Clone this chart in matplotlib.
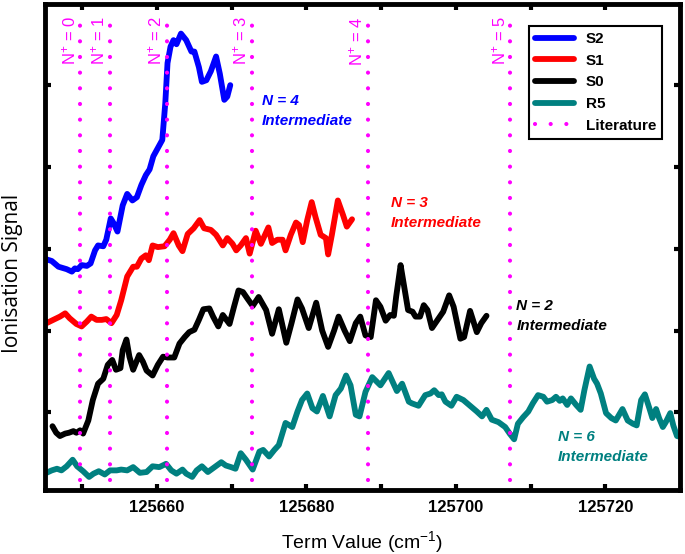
import numpy as np
from matplotlib import pyplot

pyplot.rcParams['font.family'] = ['Liberation Sans', 'DejaVu Sans']
pyplot.rcParams['mathtext.fontset'] = 'custom'
pyplot.rcParams['mathtext.rm'] = 'Liberation Sans'
pyplot.rcParams['mathtext.it'] = 'Liberation Sans:italic'
pyplot.rcParams['mathtext.bf'] = 'Liberation Sans:bold'

# S2 (blue), N = 4 intermediate
s2_x = [125645.2, 125645.9, 125646.8, 125647.9, 125648.6, 125649.0, 125649.4, 125649.9,
        125650.6, 125651.1, 125651.7, 125652.1, 125652.8, 125653.2, 125653.8, 125654.2,
        125654.7, 125655.4, 125656.0, 125656.7, 125657.3, 125657.9, 125658.5, 125659.0,
        125659.5, 125660.1, 125660.7, 125661.1, 125661.4, 125661.8, 125662.2, 125662.6,
        125663.2, 125663.9, 125664.6, 125665.0, 125665.6, 125666.0, 125666.6, 125667.2,
        125667.9, 125668.4, 125669.0, 125669.4, 125669.8]
s2_y = [2.87, 2.85, 2.78, 2.75, 2.72, 2.76, 2.75, 2.80,
        2.79, 2.82, 2.98, 3.04, 3.03, 3.11, 3.37, 3.31,
        3.21, 3.53, 3.67, 3.59, 3.63, 3.78, 3.90, 3.97,
        4.13, 4.23, 4.33, 4.78, 5.27, 5.47, 5.55, 5.50,
        5.63, 5.55, 5.41, 5.41, 5.22, 5.04, 5.06, 5.17,
        5.35, 5.14, 4.82, 4.86, 5.00]

# S1 (red), N = 3 intermediate
s1_x = [125645.2, 125646.1, 125647.0, 125647.7, 125648.3, 125649.2, 125649.9, 125650.6,
        125651.2, 125651.9, 125652.6, 125653.2, 125653.9, 125654.6, 125655.2, 125656.0,
        125656.8, 125657.3, 125657.9, 125658.5, 125658.9, 125659.4, 125660.1, 125661.0,
        125661.7, 125662.2, 125662.9, 125663.4, 125664.1, 125664.9, 125665.7, 125666.3,
        125667.2, 125667.9, 125668.8, 125669.4, 125670.1, 125670.6, 125671.2, 125671.9,
        125672.4, 125673.2, 125673.9, 125674.9, 125675.4, 125676.1, 125676.8, 125677.2,
        125677.9, 125678.6, 125679.0, 125679.5, 125680.1, 125680.7, 125681.2, 125681.9,
        125682.6, 125682.9, 125683.4, 125684.2, 125684.9, 125685.4, 125686.1]
s1_y = [2.09, 2.13, 2.17, 2.21, 2.15, 2.08, 2.05, 2.11,
        2.17, 2.13, 2.13, 2.14, 2.09, 2.19, 2.37, 2.66,
        2.78, 2.78, 2.88, 2.92, 2.86, 3.04, 3.02, 3.03,
        3.11, 3.19, 3.04, 2.97, 3.18, 3.25, 3.35, 3.25,
        3.23, 3.17, 3.04, 3.13, 3.06, 2.98, 3.04, 3.13,
        2.94, 3.22, 3.06, 3.26, 3.07, 3.11, 3.11, 2.98,
        3.17, 3.32, 3.29, 3.08, 3.35, 3.57, 3.39, 3.17,
        3.13, 2.93, 3.17, 3.59, 3.41, 3.27, 3.36]

# S0 (black), N = 2 intermediate
s0_x = [125646.0, 125646.5, 125647.0, 125647.7, 125648.2, 125648.8, 125649.2, 125649.7,
        125650.1, 125650.8, 125651.4, 125652.1, 125652.8, 125653.4, 125654.0, 125654.5,
        125655.1, 125655.4, 125655.9, 125656.3, 125656.8, 125657.6, 125658.1, 125658.6,
        125659.4, 125660.1, 125660.8, 125661.4, 125662.3, 125663.0, 125663.7, 125664.3,
        125665.0, 125665.6, 125666.2, 125667.0, 125667.5, 125668.2, 125668.8, 125669.7,
        125670.3, 125670.9, 125671.5, 125672.1, 125672.8, 125673.6, 125674.6, 125675.4,
        125676.3, 125677.3, 125678.0, 125678.8, 125679.4, 125680.3, 125681.3, 125682.1,
        125682.9, 125683.7, 125684.3, 125685.1, 125685.8, 125686.6, 125687.2, 125687.9,
        125688.6, 125689.3, 125689.9, 125690.6, 125691.2, 125691.7, 125692.0, 125692.6,
        125693.0, 125693.6, 125694.2, 125694.6, 125695.2, 125695.7, 125696.2, 125696.8,
        125697.7, 125698.3, 125699.1, 125699.7, 125700.6, 125701.1, 125701.9, 125702.8,
        125703.4, 125704.1]
s0_y = [0.83, 0.75, 0.71, 0.74, 0.75, 0.77, 0.75, 0.78,
        0.74, 0.90, 1.15, 1.35, 1.41, 1.58, 1.64, 1.52,
        1.54, 1.76, 1.89, 1.68, 1.52, 1.70, 1.62, 1.51,
        1.45, 1.58, 1.68, 1.67, 1.67, 1.84, 1.92, 1.98,
        2.01, 2.13, 2.26, 2.27, 2.17, 2.05, 2.19, 2.08,
        2.29, 2.49, 2.47, 2.39, 2.30, 2.41, 2.25, 1.96,
        2.26, 1.85, 2.09, 2.38, 2.27, 2.03, 2.34, 2.00,
        1.80, 2.00, 2.17, 2.00, 1.87, 2.09, 2.17, 1.94,
        1.92, 2.37, 2.29, 2.12, 2.19, 2.18, 2.41, 2.80,
        2.58, 2.25, 2.23, 2.17, 2.17, 2.31, 2.25, 2.03,
        2.15, 2.23, 2.43, 2.29, 1.90, 1.92, 2.24, 1.98,
        2.09, 2.18]

# R5 (teal), N = 6 intermediate
r5_x = [125645.2, 125645.9, 125646.6, 125647.2, 125647.9, 125648.7, 125649.3, 125650.1,
        125650.9, 125651.5, 125652.2, 125653.0, 125653.7, 125654.6, 125655.2, 125656.0,
        125656.8, 125657.7, 125658.6, 125659.4, 125660.3, 125661.2, 125661.9, 125662.6,
        125663.4, 125663.9, 125664.7, 125665.3, 125666.0, 125666.8, 125667.7, 125668.6,
        125669.2, 125669.9, 125670.5, 125671.2, 125671.9, 125672.8, 125673.7, 125674.2,
        125675.0, 125675.7, 125676.3, 125677.2, 125678.1, 125678.8, 125679.4, 125680.1,
        125680.8, 125681.4, 125682.2, 125683.1, 125683.9, 125684.6, 125685.3, 125685.9,
        125686.6, 125687.1, 125687.9, 125688.8, 125689.9, 125691.0, 125692.1, 125692.8,
        125693.7, 125694.1, 125695.0, 125695.9, 125696.6, 125697.1, 125697.7, 125698.1,
        125698.6, 125699.4, 125700.1, 125701.0, 125701.9, 125702.8, 125703.5, 125704.1,
        125704.8, 125705.7, 125706.6, 125707.2, 125707.8, 125708.3, 125709.0, 125709.7,
        125710.3, 125711.0, 125711.7, 125712.2, 125712.9, 125713.4, 125713.9, 125714.3,
        125714.9, 125715.4, 125716.1, 125716.7, 125717.2, 125717.9, 125718.5, 125718.9,
        125719.4, 125720.1, 125720.8, 125721.4, 125722.3, 125723.0, 125723.7, 125724.2,
        125724.8, 125725.3, 125725.9, 125726.3, 125726.8, 125727.2, 125727.7, 125728.1,
        125728.7, 125729.1, 125729.6, 125730.0]
r5_y = [0.26, 0.29, 0.31, 0.29, 0.34, 0.42, 0.34, 0.28,
        0.21, 0.25, 0.28, 0.24, 0.29, 0.29, 0.30, 0.29,
        0.33, 0.26, 0.27, 0.34, 0.33, 0.37, 0.29, 0.25,
        0.30, 0.25, 0.21, 0.29, 0.34, 0.27, 0.33, 0.39,
        0.35, 0.33, 0.31, 0.50, 0.42, 0.30, 0.52, 0.54,
        0.46, 0.54, 0.60, 0.87, 0.82, 1.01, 1.15, 1.23,
        1.05, 1.01, 1.20, 0.95, 1.21, 1.29, 1.45, 1.33,
        0.97, 0.95, 1.25, 1.43, 1.33, 1.48, 1.26, 1.35,
        1.13, 1.11, 1.08, 1.21, 1.23, 1.27, 1.21, 1.22,
        1.13, 1.08, 1.19, 1.15, 1.08, 1.01, 0.95, 1.03,
        0.91, 0.88, 0.82, 0.74, 0.67, 0.86, 0.94, 1.01,
        1.11, 1.21, 1.19, 1.13, 1.15, 1.19, 1.14, 1.17,
        1.09, 1.17, 1.09, 1.03, 1.27, 1.56, 1.41, 1.35,
        1.23, 0.99, 0.93, 0.90, 1.04, 0.90, 0.86, 0.84,
        1.15, 1.22, 1.05, 0.93, 1.04, 0.93, 0.82, 0.88,
        0.99, 0.84, 0.71, 0.70]

# literature ionisation thresholds N+ = 0..5
lit_x = [125649.7, 125653.7, 125661.3, 125672.7, 125688.2, 125707.3]
lit_labels = ['N$^{+}$ = 0', 'N$^{+}$ = 1', 'N$^{+}$ = 2', 'N$^{+}$ = 3', 'N$^{+}$ = 4', 'N$^{+}$ = 5']

teal = '#008080'
magenta = '#FF00FF'

fig = pyplot.figure(figsize=(6.85, 5.54), dpi=100)
ax = fig.add_axes([0.0657, 0.1155, 0.927, 0.877])

lw = 4.2
ax.plot(s2_x, s2_y, color='#0000FF', lw=lw, label='S2', solid_capstyle='round', solid_joinstyle='round')
ax.plot(s1_x, s1_y, color='#FF0000', lw=lw, label='S1', solid_capstyle='round', solid_joinstyle='round')
ax.plot(s0_x, s0_y, color='black', lw=lw, label='S0', solid_capstyle='round', solid_joinstyle='round')
ax.plot(r5_x, r5_y, color=teal, lw=lw, label='R5', solid_capstyle='round', solid_joinstyle='round')

for i, (xv, lab) in enumerate(zip(lit_x, lit_labels)):
    ax.plot([xv, xv], [0.17, 5.9], color=magenta, lw=3, linestyle=(0, (0.01, 3.75)),
            dash_capstyle='round', label='Literature' if i == 0 else None)
    ax.text(xv - 0.3, 5.84, lab, color=magenta, rotation=90, ha='right', va='top', fontsize=12)

ann = dict(fontsize=11, fontweight='bold', style='italic', va='center', linespacing=1.55)
ax.text(125674.0, 4.68, 'N = 4\nIntermediate', color='#0000FF', **ann)
ax.text(125691.3, 3.44, 'N = 3\nIntermediate', color='#FF0000', **ann)
ax.text(125708.1, 2.18, 'N = 2\nIntermediate', color='black', **ann)
ax.text(125713.7, 0.575, 'N = 6\nIntermediate', color=teal, **ann)

ax.set_xlim(125645, 125730)
ax.set_ylim(0.05, 5.99)
xt = np.arange(125650, 125730, 10)
ax.set_xticks(xt)
ax.set_xticklabels(['' if t % 20 else str(t) for t in xt], fontsize=12, fontweight='bold')
ax.set_yticks([1, 2, 3, 4, 5])
ax.set_yticklabels([])
ax.tick_params(direction='in', length=4, width=3, top=True, right=True, pad=7)
for sp in ax.spines.values():
    sp.set_linewidth(3.5)

ax.set_xlabel('Term Value (cm$^{-1}$)', fontsize=14)
ax.xaxis.set_label_coords(0.5, -(542 - 490) / 486)
ax.xaxis.label.set_va('center')
ax.set_ylabel('Ionisation Signal', fontsize=15, family='Open Sans')
ax.yaxis.set_label_coords(-33 / 635, (490 - 273) / 486)
ax.yaxis.label.set_va('center')

leg = ax.legend(loc='upper right', bbox_to_anchor=(0.972, 0.955), borderaxespad=0,
                fancybox=False, edgecolor='black', framealpha=1,
                prop={'weight': 'bold', 'size': 11}, handlelength=2.5, labelspacing=0.5)
leg.get_frame().set_linewidth(1.5)

pyplot.savefig('out.png')
